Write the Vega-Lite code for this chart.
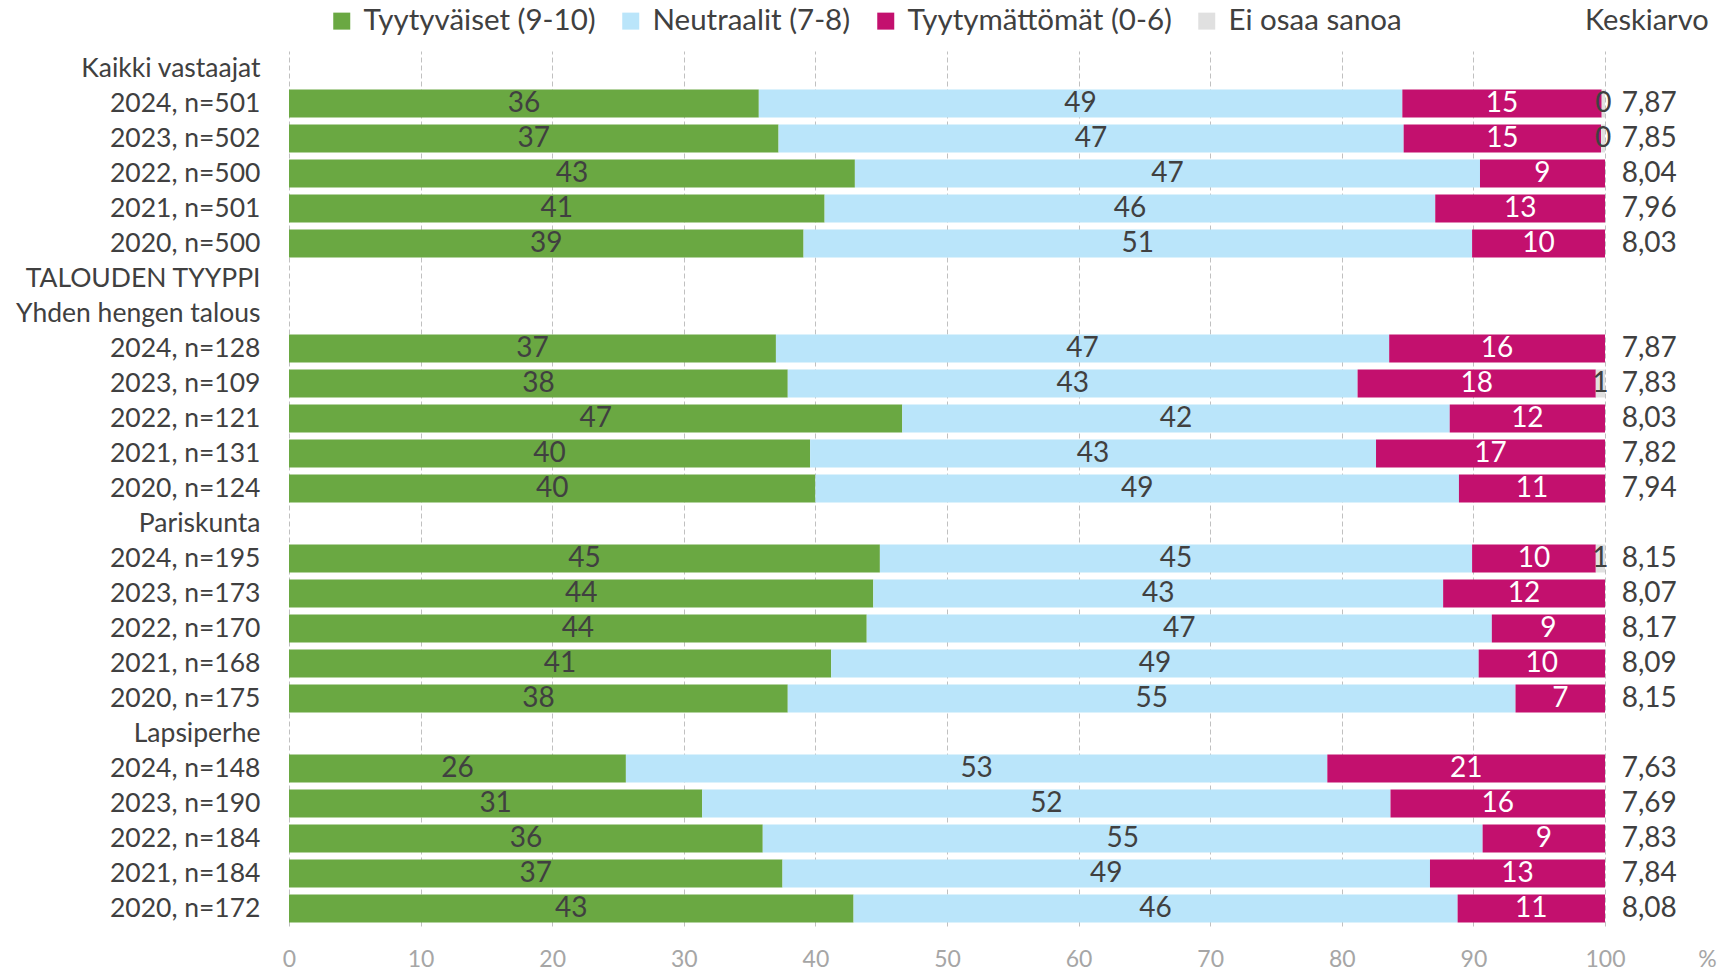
{
  "$schema": "https://vega.github.io/schema/vega-lite/v6.json",
  "width": 1418,
  "height": 875,
  "autosize": {"type": "none"},
  "padding": {"left": 289, "top": 51, "right": 22, "bottom": 48},
  "config": {
    "font": "Lato",
    "view": {"stroke": null},
    "locale": {"number": {"decimal": ",", "thousands": " ", "grouping": [3], "currency": ["", " €"]}}
  },
  "datasets": {
    "bars": [
      {"row": "2024, n=501", "seg": "Tyytyväiset (9-10)", "o": 1, "v": 35.7, "lab": "36"},
      {"row": "2024, n=501", "seg": "Neutraalit (7-8)", "o": 2, "v": 48.9, "lab": "49"},
      {"row": "2024, n=501", "seg": "Tyytymättömät (0-6)", "o": 3, "v": 15.15, "lab": "15"},
      {"row": "2024, n=501", "seg": "Ei osaa sanoa", "o": 4, "v": 0.25, "lab": "0"},
      {"row": "2023, n=502", "seg": "Tyytyväiset (9-10)", "o": 1, "v": 37.2, "lab": "37"},
      {"row": "2023, n=502", "seg": "Neutraalit (7-8)", "o": 2, "v": 47.5, "lab": "47"},
      {"row": "2023, n=502", "seg": "Tyytymättömät (0-6)", "o": 3, "v": 15.0, "lab": "15"},
      {"row": "2023, n=502", "seg": "Ei osaa sanoa", "o": 4, "v": 0.3, "lab": "0"},
      {"row": "2022, n=500", "seg": "Tyytyväiset (9-10)", "o": 1, "v": 43.0, "lab": "43"},
      {"row": "2022, n=500", "seg": "Neutraalit (7-8)", "o": 2, "v": 47.5, "lab": "47"},
      {"row": "2022, n=500", "seg": "Tyytymättömät (0-6)", "o": 3, "v": 9.5, "lab": "9"},
      {"row": "2021, n=501", "seg": "Tyytyväiset (9-10)", "o": 1, "v": 40.7, "lab": "41"},
      {"row": "2021, n=501", "seg": "Neutraalit (7-8)", "o": 2, "v": 46.4, "lab": "46"},
      {"row": "2021, n=501", "seg": "Tyytymättömät (0-6)", "o": 3, "v": 12.9, "lab": "13"},
      {"row": "2020, n=500", "seg": "Tyytyväiset (9-10)", "o": 1, "v": 39.1, "lab": "39"},
      {"row": "2020, n=500", "seg": "Neutraalit (7-8)", "o": 2, "v": 50.8, "lab": "51"},
      {"row": "2020, n=500", "seg": "Tyytymättömät (0-6)", "o": 3, "v": 10.1, "lab": "10"},
      {"row": "2024, n=128", "seg": "Tyytyväiset (9-10)", "o": 1, "v": 37.0, "lab": "37"},
      {"row": "2024, n=128", "seg": "Neutraalit (7-8)", "o": 2, "v": 46.6, "lab": "47"},
      {"row": "2024, n=128", "seg": "Tyytymättömät (0-6)", "o": 3, "v": 16.4, "lab": "16"},
      {"row": "2023, n=109", "seg": "Tyytyväiset (9-10)", "o": 1, "v": 37.9, "lab": "38"},
      {"row": "2023, n=109", "seg": "Neutraalit (7-8)", "o": 2, "v": 43.3, "lab": "43"},
      {"row": "2023, n=109", "seg": "Tyytymättömät (0-6)", "o": 3, "v": 18.1, "lab": "18"},
      {"row": "2023, n=109", "seg": "Ei osaa sanoa", "o": 4, "v": 0.7, "lab": "1"},
      {"row": "2022, n=121", "seg": "Tyytyväiset (9-10)", "o": 1, "v": 46.6, "lab": "47"},
      {"row": "2022, n=121", "seg": "Neutraalit (7-8)", "o": 2, "v": 41.6, "lab": "42"},
      {"row": "2022, n=121", "seg": "Tyytymättömät (0-6)", "o": 3, "v": 11.8, "lab": "12"},
      {"row": "2021, n=131", "seg": "Tyytyväiset (9-10)", "o": 1, "v": 39.6, "lab": "40"},
      {"row": "2021, n=131", "seg": "Neutraalit (7-8)", "o": 2, "v": 43.0, "lab": "43"},
      {"row": "2021, n=131", "seg": "Tyytymättömät (0-6)", "o": 3, "v": 17.4, "lab": "17"},
      {"row": "2020, n=124", "seg": "Tyytyväiset (9-10)", "o": 1, "v": 40.0, "lab": "40"},
      {"row": "2020, n=124", "seg": "Neutraalit (7-8)", "o": 2, "v": 48.9, "lab": "49"},
      {"row": "2020, n=124", "seg": "Tyytymättömät (0-6)", "o": 3, "v": 11.1, "lab": "11"},
      {"row": "2024, n=195", "seg": "Tyytyväiset (9-10)", "o": 1, "v": 44.9, "lab": "45"},
      {"row": "2024, n=195", "seg": "Neutraalit (7-8)", "o": 2, "v": 45.0, "lab": "45"},
      {"row": "2024, n=195", "seg": "Tyytymättömät (0-6)", "o": 3, "v": 9.4, "lab": "10"},
      {"row": "2024, n=195", "seg": "Ei osaa sanoa", "o": 4, "v": 0.7, "lab": "1"},
      {"row": "2023, n=173", "seg": "Tyytyväiset (9-10)", "o": 1, "v": 44.4, "lab": "44"},
      {"row": "2023, n=173", "seg": "Neutraalit (7-8)", "o": 2, "v": 43.3, "lab": "43"},
      {"row": "2023, n=173", "seg": "Tyytymättömät (0-6)", "o": 3, "v": 12.3, "lab": "12"},
      {"row": "2022, n=170", "seg": "Tyytyväiset (9-10)", "o": 1, "v": 43.9, "lab": "44"},
      {"row": "2022, n=170", "seg": "Neutraalit (7-8)", "o": 2, "v": 47.5, "lab": "47"},
      {"row": "2022, n=170", "seg": "Tyytymättömät (0-6)", "o": 3, "v": 8.6, "lab": "9"},
      {"row": "2021, n=168", "seg": "Tyytyväiset (9-10)", "o": 1, "v": 41.2, "lab": "41"},
      {"row": "2021, n=168", "seg": "Neutraalit (7-8)", "o": 2, "v": 49.2, "lab": "49"},
      {"row": "2021, n=168", "seg": "Tyytymättömät (0-6)", "o": 3, "v": 9.6, "lab": "10"},
      {"row": "2020, n=175", "seg": "Tyytyväiset (9-10)", "o": 1, "v": 37.9, "lab": "38"},
      {"row": "2020, n=175", "seg": "Neutraalit (7-8)", "o": 2, "v": 55.3, "lab": "55"},
      {"row": "2020, n=175", "seg": "Tyytymättömät (0-6)", "o": 3, "v": 6.8, "lab": "7"},
      {"row": "2024, n=148", "seg": "Tyytyväiset (9-10)", "o": 1, "v": 25.6, "lab": "26"},
      {"row": "2024, n=148", "seg": "Neutraalit (7-8)", "o": 2, "v": 53.3, "lab": "53"},
      {"row": "2024, n=148", "seg": "Tyytymättömät (0-6)", "o": 3, "v": 21.1, "lab": "21"},
      {"row": "2023, n=190", "seg": "Tyytyväiset (9-10)", "o": 1, "v": 31.4, "lab": "31"},
      {"row": "2023, n=190", "seg": "Neutraalit (7-8)", "o": 2, "v": 52.3, "lab": "52"},
      {"row": "2023, n=190", "seg": "Tyytymättömät (0-6)", "o": 3, "v": 16.3, "lab": "16"},
      {"row": "2022, n=184", "seg": "Tyytyväiset (9-10)", "o": 1, "v": 36.0, "lab": "36"},
      {"row": "2022, n=184", "seg": "Neutraalit (7-8)", "o": 2, "v": 54.7, "lab": "55"},
      {"row": "2022, n=184", "seg": "Tyytymättömät (0-6)", "o": 3, "v": 9.3, "lab": "9"},
      {"row": "2021, n=184", "seg": "Tyytyväiset (9-10)", "o": 1, "v": 37.5, "lab": "37"},
      {"row": "2021, n=184", "seg": "Neutraalit (7-8)", "o": 2, "v": 49.2, "lab": "49"},
      {"row": "2021, n=184", "seg": "Tyytymättömät (0-6)", "o": 3, "v": 13.3, "lab": "13"},
      {"row": "2020, n=172", "seg": "Tyytyväiset (9-10)", "o": 1, "v": 42.9, "lab": "43"},
      {"row": "2020, n=172", "seg": "Neutraalit (7-8)", "o": 2, "v": 45.9, "lab": "46"},
      {"row": "2020, n=172", "seg": "Tyytymättömät (0-6)", "o": 3, "v": 11.2, "lab": "11"}
    ],
    "means": [
      {"row": "2024, n=501", "m": 7.87},
      {"row": "2023, n=502", "m": 7.85},
      {"row": "2022, n=500", "m": 8.04},
      {"row": "2021, n=501", "m": 7.96},
      {"row": "2020, n=500", "m": 8.03},
      {"row": "2024, n=128", "m": 7.87},
      {"row": "2023, n=109", "m": 7.83},
      {"row": "2022, n=121", "m": 8.03},
      {"row": "2021, n=131", "m": 7.82},
      {"row": "2020, n=124", "m": 7.94},
      {"row": "2024, n=195", "m": 8.15},
      {"row": "2023, n=173", "m": 8.07},
      {"row": "2022, n=170", "m": 8.17},
      {"row": "2021, n=168", "m": 8.09},
      {"row": "2020, n=175", "m": 8.15},
      {"row": "2024, n=148", "m": 7.63},
      {"row": "2023, n=190", "m": 7.69},
      {"row": "2022, n=184", "m": 7.83},
      {"row": "2021, n=184", "m": 7.84},
      {"row": "2020, n=172", "m": 8.08}
    ]
  },
  "encoding": {
    "y": {
      "field": "row",
      "type": "nominal",
      "title": null,
      "scale": {
        "domain": [
          "Kaikki vastaajat", "2024, n=501", "2023, n=502", "2022, n=500", "2021, n=501", "2020, n=500",
          "TALOUDEN TYYPPI", "Yhden hengen talous",
          "2024, n=128", "2023, n=109", "2022, n=121", "2021, n=131", "2020, n=124",
          "Pariskunta",
          "2024, n=195", "2023, n=173", "2022, n=170", "2021, n=168", "2020, n=175",
          "Lapsiperhe",
          "2024, n=148", "2023, n=190", "2022, n=184", "2021, n=184", "2020, n=172"
        ],
        "paddingInner": 0.2,
        "paddingOuter": 0.1
      },
      "axis": {
        "domain": false,
        "ticks": false,
        "grid": false,
        "labelFontSize": 26.5,
        "labelColor": "#404040",
        "labelPadding": 29,
        "labelLimit": 500,
        "title": null
      }
    }
  },
  "layer": [
    {
      "data": {"name": "bars"},
      "mark": {"type": "bar"},
      "encoding": {
        "x": {
          "field": "v",
          "type": "quantitative",
          "stack": "zero",
          "title": null,
          "scale": {"domain": [0, 107.75], "nice": false, "zero": true},
          "axis": {
            "values": [0, 10, 20, 30, 40, 50, 60, 70, 80, 90, 100, 107.75],
            "labelExpr": "datum.value > 101 ? '%' : datum.label",
            "grid": true,
            "gridDash": [5, 3],
            "gridColor": "#c0c0c0",
            "gridWidth": 1,
            "gridOpacity": {"condition": {"test": "datum.value > 101", "value": 0}, "value": 1},
            "domain": false,
            "ticks": false,
            "labelFontSize": 23,
            "labelColor": "#a6a6a6",
            "labelPadding": 22,
            "labelFlush": false,
            "labelOverlap": false,
            "title": null
          }
        },
        "color": {
          "field": "seg",
          "type": "nominal",
          "scale": {
            "domain": ["Tyytyväiset (9-10)", "Neutraalit (7-8)", "Tyytymättömät (0-6)", "Ei osaa sanoa"],
            "range": ["#6aa842", "#bae5fa", "#c3106e", "#e0e0e0"]
          },
          "legend": {
            "orient": "none",
            "legendX": 38,
            "legendY": -45,
            "direction": "horizontal",
            "title": "Keskiarvo",
            "titleOrient": "right",
            "titlePadding": 183,
            "titleFontSize": 29,
            "titleFontWeight": "normal",
            "titleColor": "#404040",
            "titleFont": "Lato",
            "symbolType": "square",
            "symbolSize": 289,
            "symbolStrokeWidth": 0,
            "symbolOpacity": 1,
            "labelFont": "Lato",
            "labelFontSize": 29.5,
            "labelColor": "#404040",
            "labelOffset": 7,
            "columnPadding": 20,
            "labelLimit": 500
          }
        },
        "order": {"field": "o", "type": "quantitative"}
      }
    },
    {
      "data": {"name": "bars"},
      "mark": {"type": "text", "fontSize": 28, "baseline": "middle", "align": "center"},
      "encoding": {
        "x": {"field": "v", "type": "quantitative", "stack": "zero", "bandPosition": 0.5, "title": null},
        "detail": {"field": "seg", "type": "nominal"},
        "order": {"field": "o", "type": "quantitative"},
        "text": {"field": "lab", "type": "nominal"},
        "color": {
          "condition": {"test": "datum.seg === 'Tyytymättömät (0-6)'", "value": "#ffffff"},
          "value": "#404040"
        }
      }
    },
    {
      "data": {"name": "means"},
      "mark": {"type": "text", "fontSize": 28, "baseline": "middle", "align": "left", "color": "#404040"},
      "encoding": {
        "x": {"datum": 101.27, "type": "quantitative", "title": null},
        "text": {"field": "m", "type": "quantitative", "format": ".2f"}
      }
    }
  ]
}
